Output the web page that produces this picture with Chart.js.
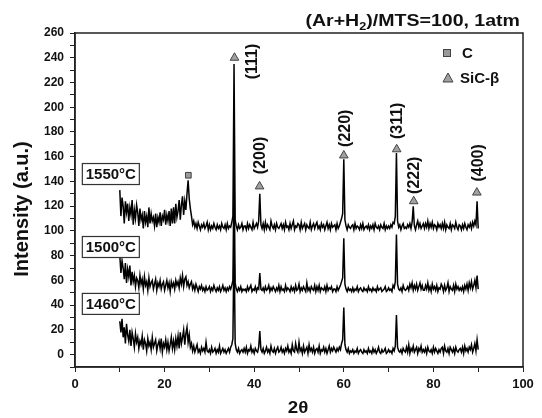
<!DOCTYPE html>
<html>
<head>
<meta charset="utf-8">
<script src="https://cdn.jsdelivr.net/npm/chart.js@4.4.1/dist/chart.umd.min.js"></script>
<style>
    body { margin: 0; background: #fff; }
</style>
</head>
<body>
<canvas id="xrd" width="542" height="418"></canvas>
<script>
// 2-theta scan: 10 to 90 deg, one reading every 0.25 deg (16 readings per row below)
const scanStart = 10
const scanStep = 0.25

// intensities, each trace relative to its own baseline
const int1460 = [
    27, 18, 29, 14, 22, 9, 25, 16, 11, 20, 7, 18, 13, 6, 17, 10,
    14, 5, 11, 8, 15, 4, 12, 9, 3, 13, 7, 10, 4, 14, 6, 9,
    12, 3, 8, 11, 5, 13, 2, 9, 6, 12, 4, 10, 3, 8, 14, 5,
    11, 4, 13, 7, 15, 5, 18, 9, 14, 20, 8, 17, 22, 10, 16, 6,
    9, 3, 7, 2, 5, 8, 2, 4, 1, 6, 3, 5, 2, 10, 3, 2,
    4, 1, 6, 2, 3, 5, 1, 4, 2, 7, 1, 3, 5, 2, 4, 1,
    3, 5, 2, 6, 8, 13, 95, 9, 4, 2, 5, 1, 3, 4, 2, 5,
    2, 6, 1, 4, 3, 7, 2, 4, 1, 5, 3, 2, 6, 19, 4, 2,
    5, 1, 3, 6, 2, 4, 1, 7, 3, 2, 5, 1, 4, 6, 2, 3,
    6, 2, 4, 1, 5, 3, 7, 2, 4, 1, 8, 3, 2, 9, 4, 2,
    10, 3, 5, 1, 7, 2, 4, 6, 1, 8, 3, 5, 2, 6, 1, 4,
    5, 2, 7, 1, 4, 3, 6, 2, 5, 1, 4, 7, 2, 5, 3, 6,
    4, 2, 5, 3, 6, 4, 9, 12, 38, 8, 4, 2, 5, 1, 3, 2,
    4, 1, 3, 2, 5, 1, 3, 4, 2, 1, 4, 2, 3, 1, 5, 2,
    3, 1, 5, 2, 4, 1, 3, 6, 2, 1, 4, 2, 3, 5, 1, 2,
    4, 2, 3, 1, 5, 3, 7, 32, 6, 3, 2, 4, 1, 5, 3, 2,
    6, 2, 8, 1, 5, 3, 7, 2, 4, 6, 1, 5, 3, 7, 2, 4,
    2, 5, 1, 6, 3, 2, 4, 1, 6, 2, 5, 3, 1, 4, 2, 5,
    6, 1, 7, 3, 2, 5, 1, 6, 4, 2, 5, 1, 6, 3, 2, 4,
    5, 2, 6, 1, 7, 3, 5, 2, 6, 4, 8, 2, 5, 9, 3, 12,
    4
]
const int1500 = [
    30, 16, 26, 20, 11, 24, 8, 19, 13, 22, 6, 17, 9, 14, 5, 12,
    10, 4, 14, 7, 11, 3, 13, 6, 9, 2, 12, 5, 8, 10, 3, 7,
    11, 2, 8, 5, 10, 3, 7, 9, 2, 6, 10, 4, 8, 1, 9, 5,
    8, 3, 10, 6, 9, 4, 12, 7, 14, 5, 11, 13, 6, 9, 4, 7,
    9, 3, 6, 2, 7, 4, 1, 5, 3, 6, 2, 4, 1, 5, 2, 3,
    5, 1, 4, 2, 6, 3, 1, 4, 2, 5, 1, 3, 6, 2, 4, 1,
    4, 2, 5, 3, 6, 10, 100, 8, 3, 1, 4, 2, 5, 1, 3, 2,
    3, 1, 5, 2, 4, 6, 1, 3, 2, 5, 1, 4, 3, 16, 3, 2,
    4, 1, 5, 2, 3, 6, 1, 4, 2, 5, 3, 1, 4, 2, 6, 1,
    5, 2, 3, 1, 6, 2, 4, 3, 1, 5, 2, 4, 1, 6, 2, 3,
    7, 1, 4, 2, 5, 3, 1, 8, 2, 4, 1, 5, 3, 2, 6, 1,
    5, 2, 6, 1, 4, 3, 2, 5, 1, 6, 2, 4, 3, 5, 1, 3,
    3, 1, 5, 2, 4, 6, 9, 12, 44, 7, 3, 1, 4, 2, 3, 1,
    4, 1, 3, 2, 5, 1, 3, 4, 2, 1, 4, 2, 3, 1, 5, 2,
    3, 1, 4, 2, 3, 1, 5, 2, 3, 4, 1, 2, 3, 5, 1, 2,
    4, 2, 3, 1, 6, 4, 9, 47, 7, 3, 2, 4, 1, 6, 3, 2,
    3, 5, 2, 7, 4, 8, 2, 6, 3, 7, 2, 5, 8, 3, 6, 2,
    2, 6, 3, 8, 2, 5, 1, 7, 3, 5, 2, 6, 1, 4, 3, 7,
    5, 1, 6, 2, 4, 8, 1, 5, 3, 2, 6, 1, 7, 3, 5, 2,
    4, 2, 5, 1, 6, 3, 7, 2, 8, 4, 9, 3, 6, 10, 4, 14,
    3
]
const int1550 = [
    33, 12, 27, 20, 6, 24, 15, 22, 8, 19, 13, 25, 5, 17, 10, 21,
    15, 4, 18, 9, 13, 2, 16, 7, 12, 3, 19, 6, 14, 8, 11, 4,
    14, 3, 11, 7, 15, 4, 12, 9, 17, 5, 13, 8, 16, 4, 18, 6,
    19, 6, 22, 11, 16, 25, 9, 21, 28, 13, 24, 17, 30, 41, 26, 18,
    12, 5, 8, 3, 6, 2, 7, 4, 1, 5, 3, 6, 2, 4, 7, 1,
    5, 1, 4, 2, 6, 3, 1, 5, 2, 4, 1, 6, 3, 2, 5, 1,
    6, 2, 4, 3, 7, 12, 135, 9, 4, 1, 5, 2, 3, 6, 1, 4,
    4, 1, 6, 2, 5, 3, 1, 7, 2, 4, 6, 3, 8, 30, 5, 2,
    6, 1, 7, 2, 5, 3, 1, 8, 4, 2, 5, 1, 6, 3, 2, 4,
    6, 2, 5, 1, 7, 3, 4, 1, 6, 2, 5, 8, 1, 4, 3, 6,
    5, 1, 7, 2, 4, 6, 1, 5, 3, 2, 7, 1, 4, 6, 2, 5,
    7, 2, 4, 1, 6, 3, 5, 1, 4, 7, 2, 5, 1, 6, 3, 4,
    5, 1, 6, 2, 4, 7, 10, 14, 58, 9, 4, 1, 5, 3, 2, 4,
    5, 1, 6, 2, 4, 3, 1, 5, 2, 6, 1, 3, 4, 2, 5, 1,
    4, 2, 5, 1, 6, 3, 2, 4, 1, 5, 3, 2, 6, 1, 4, 2,
    4, 2, 5, 3, 7, 6, 12, 63, 8, 3, 5, 1, 4, 6, 2, 3,
    2, 5, 3, 6, 2, 7, 20, 4, 1, 5, 8, 3, 6, 2, 4, 6,
    2, 6, 3, 8, 2, 6, 3, 7, 2, 5, 4, 1, 6, 3, 5, 2,
    6, 2, 7, 1, 5, 3, 2, 6, 1, 5, 4, 2, 7, 3, 1, 5,
    4, 1, 5, 2, 6, 3, 1, 5, 3, 6, 2, 7, 4, 8, 5, 24,
    2
]
const traces = [int1460, int1500, int1550]
const traceNames = ["1460°C", "1500°C", "1550°C"]
const traceOffsets = [0, 50, 100]

// phase markers
const carbonX = [25.3]
const carbonY = [145]
const sicX = [35.6, 41.2, 60.0, 71.8, 75.6, 89.7]
const sicY = [240, 136, 161, 166, 124, 131]
const sicPlanes = ["(111)", "(200)", "(220)", "(311)", "(222)", "(400)"]

const xTicks = [0, 20, 40, 60, 80, 100]
const yTicks = [0, 20, 40, 60, 80, 100, 120, 140, 160, 180, 200, 220, 240, 260]

// where the text goes (data units)
const planeLabelPos = [[39.7, 237], [41.5, 161], [60.5, 183], [71.9, 189], [75.9, 145], [90.0, 155]]
const boxLabelPos = [[8.0, 41], [8.0, 87], [8.0, 146]]

const FONT = "'Liberation Sans', Arial, sans-serif"

function buildTrace(values, offset) {
    let pts = []
    values.forEach((v, i) => {
        pts.push({ x: scanStart + i * scanStep, y: v + offset })
    })
    return pts
}

function zipPoints(xs, ys) {
    return xs.map((x, i) => ({ x: x, y: ys[i] }))
}

let datasets = []
traces.forEach((t, k) => {
    datasets.push({
        label: traceNames[k],
        data: buildTrace(t, traceOffsets[k]),
        borderColor: "#000",
        borderWidth: 1.5,
        pointRadius: 0,
        tension: 0,
        order: 2
    })
})
datasets.push({
    label: "SiC-β",
    data: zipPoints(sicX, sicY),
    showLine: false,
    pointStyle: "triangle",
    pointRadius: 5,
    backgroundColor: "#a0a0a0",
    borderColor: "#444",
    borderWidth: 1,
    order: 0
})
datasets.push({
    label: "C",
    data: zipPoints(carbonX, carbonY),
    showLine: false,
    pointStyle: "rect",
    pointRadius: 4,
    backgroundColor: "#9a9a9a",
    borderColor: "#444",
    borderWidth: 1,
    order: 0
})

function stretchedText(ctx, text, x, y, sx) {
    ctx.save()
    ctx.translate(x, y)
    ctx.scale(sx, 1)
    ctx.fillText(text, 0, 0)
    ctx.restore()
}

const decorations = {
    id: "decorations",
    afterDatasetsDraw(chart) {
        const ctx = chart.ctx
        const xs = chart.scales.x
        const ys = chart.scales.y
        const a = chart.chartArea
        ctx.save()

        // frame
        ctx.strokeStyle = "#222"
        ctx.lineWidth = 1.5
        ctx.strokeRect(a.left, a.top, a.right - a.left, a.bottom - a.top)

        ctx.fillStyle = "#111"

        // plane labels, rotated
        ctx.font = "bold 16px " + FONT
        ctx.textAlign = "center"
        ctx.textBaseline = "middle"
        sicPlanes.forEach((p, i) => {
            ctx.save()
            ctx.translate(xs.getPixelForValue(planeLabelPos[i][0]), ys.getPixelForValue(planeLabelPos[i][1]))
            ctx.rotate(-Math.PI / 2)
            ctx.fillText(p, 0, 0)
            ctx.restore()
        })

        // temperature boxes
        ctx.font = "bold 15px " + FONT
        traceNames.forEach((n, i) => {
            let cx = xs.getPixelForValue(boxLabelPos[i][0])
            let cy = ys.getPixelForValue(boxLabelPos[i][1])
            let w = 57, h = 21
            ctx.fillStyle = "#fff"
            ctx.fillRect(cx - w / 2, cy - h / 2, w, h)
            ctx.strokeStyle = "#333"
            ctx.lineWidth = 1.2
            ctx.strokeRect(cx - w / 2, cy - h / 2, w, h)
            ctx.fillStyle = "#111"
            ctx.fillText(n, cx, cy + 1)
        })

        // legend
        ctx.textAlign = "left"
        ctx.font = "bold 15px " + FONT
        ctx.fillStyle = "#9a9a9a"
        ctx.strokeStyle = "#444"
        ctx.lineWidth = 1
        ctx.fillRect(443.5, 49.5, 7, 7)
        ctx.strokeRect(443.5, 49.5, 7, 7)
        ctx.beginPath()
        ctx.moveTo(443, 82)
        ctx.lineTo(448, 73)
        ctx.lineTo(453, 82)
        ctx.closePath()
        ctx.fillStyle = "#a0a0a0"
        ctx.fill()
        ctx.stroke()
        ctx.fillStyle = "#111"
        ctx.fillText("C", 462, 54)
        ctx.fillText("SiC-β", 460, 79)

        ctx.restore()
    },
    afterDraw(chart) {
        const ctx = chart.ctx
        ctx.save()
        ctx.fillStyle = "#111"
        ctx.textBaseline = "alphabetic"

        // title with subscript
        let big = "bold 17px " + FONT
        let small = "bold 11px " + FONT
        let sx = 1.15
        ctx.font = big
        let w1 = ctx.measureText("(Ar+H").width
        let w3 = ctx.measureText(")/MTS=100, 1atm").width
        ctx.font = small
        let w2 = ctx.measureText("2").width
        let x = 520 - (w1 + w2 + w3) * sx
        ctx.textAlign = "left"
        ctx.font = big
        stretchedText(ctx, "(Ar+H", x, 26, sx)
        ctx.font = small
        stretchedText(ctx, "2", x + w1 * sx, 30, sx)
        ctx.font = big
        stretchedText(ctx, ")/MTS=100, 1atm", x + (w1 + w2) * sx, 26, sx)

        // axis titles
        ctx.textAlign = "center"
        ctx.textBaseline = "middle"
        ctx.font = "bold 17px " + FONT
        stretchedText(ctx, "2θ", 298, 408, 1.1)
        ctx.save()
        ctx.translate(22, 209)
        ctx.rotate(-Math.PI / 2)
        ctx.font = "bold 20px " + FONT
        ctx.fillText("Intensity (a.u.)", 0, 0)
        ctx.restore()

        ctx.restore()
    }
}

new Chart(document.getElementById("xrd").getContext("2d"), {
    type: "line",
    data: { datasets: datasets },
    options: {
        responsive: false,
        animation: false,
        devicePixelRatio: 1,
        layout: { padding: { top: 33, right: 19, left: 0, bottom: 0 } },
        plugins: { legend: { display: false }, tooltip: { enabled: false }, title: { display: false } },
        scales: {
            x: {
                type: "linear",
                min: 0,
                max: 100,
                afterFit: s => { s.height = 51 },
                border: { color: "#222", width: 1.5 },
                grid: { drawOnChartArea: false, color: "#222", tickLength: 5 },
                ticks: {
                    stepSize: 10,
                    padding: 5,
                    color: "#111",
                    font: { family: FONT, size: 13, weight: "bold" },
                    maxRotation: 0,
                    autoSkip: false,
                    callback: v => xTicks.includes(v) ? v : ""
                }
            },
            y: {
                min: -10,
                max: 260,
                afterFit: s => { s.width = 75 },
                border: { color: "#222", width: 1.5 },
                grid: { drawOnChartArea: false, color: "#222", tickLength: 5 },
                ticks: {
                    stepSize: 10,
                    padding: 6,
                    color: "#111",
                    font: { family: FONT, size: 12, weight: "bold" },
                    autoSkip: false,
                    callback: v => yTicks.includes(v) ? v : ""
                }
            }
        }
    },
    plugins: [decorations]
})
</script>
</body>
</html>
